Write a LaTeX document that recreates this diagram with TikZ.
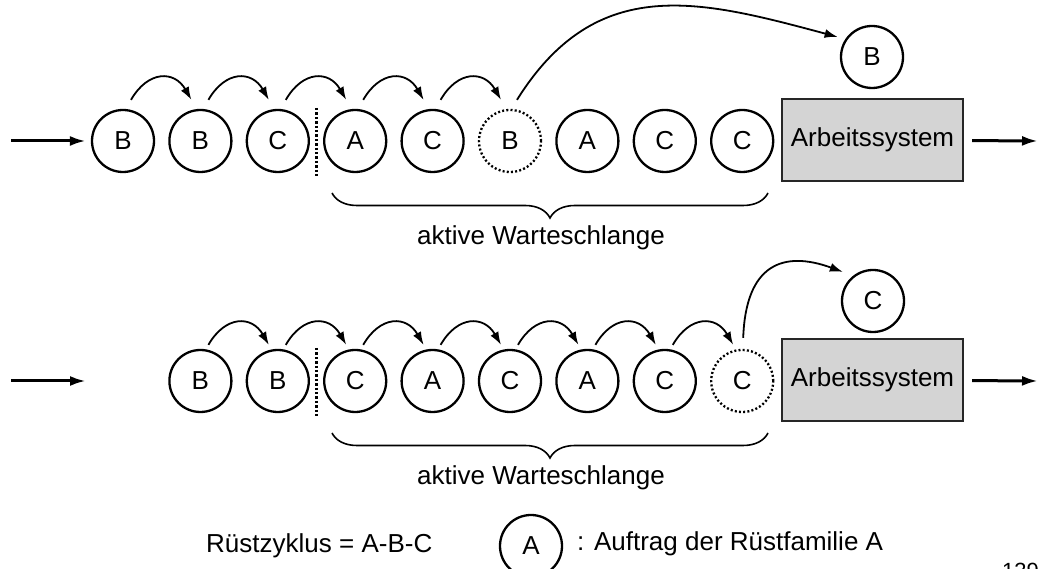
\documentclass[tikz,border=0pt]{standalone}
\usepackage{fontspec}
\setmainfont{Liberation Sans}
\usetikzlibrary{arrows.meta,decorations.pathreplacing}

\begin{document}
\begin{tikzpicture}[x=1pt,y=1pt,
  every node/.style={font=\fontsize{26}{31}\selectfont},
  job/.style={circle,draw,line width=2.3pt,minimum size=62pt,inner sep=0pt},
  gone/.style={job,dash pattern=on 2pt off 2.2pt},
  machine/.style={draw=black!85,fill=black!17,line width=2.4pt,minimum width=181pt,minimum height=82pt,inner sep=0pt},
  flow/.style={line width=3pt,-{Latex[length=16pt,width=10pt]}},
  hop/.style={line width=1.8pt,-{Latex[length=13pt,width=9pt]},out=60,in=120,looseness=1.45},
  jump/.style={line width=1.8pt,-{Latex[length=13pt,width=9pt]}},
  cut/.style={line width=2.6pt,dash pattern=on 2.4pt off 2pt},
  queue/.style={line width=1.6pt,decorate,decoration={brace,mirror,amplitude=25pt}},
  plain/.style={anchor=base west,inner sep=0pt},
]
\useasboundingbox (0,0) rectangle (1038,569);
\clip (0,0) rectangle (1038,569);

% ---------- upper queue ----------
\node[job]  (a1) at (123,428)   {B};
\node[job]  (a2) at (200.4,428) {B};
\node[job]  (a3) at (277.8,428) {C};
\node[job]  (a4) at (355.2,428) {A};
\node[job]  (a5) at (432.6,428) {C};
\node[gone] (a6) at (510,428)   {B};
\node[job]  (a7) at (587.4,428) {A};
\node[job]  (a8) at (664.8,428) {C};
\node[job]  (a9) at (742.2,428) {C};
\node[machine] (m1) at (872.5,429) {Arbeitssystem};
\node[job]  (outB) at (872,512) {B};

\coordinate (in1) at (11,428);
\coordinate (out1) at (1038,428);
\draw[flow,shorten >=5pt] (in1) -- (a1);
\draw[flow,shorten <=8pt] (m1) -- (out1);

\foreach \s/\t in {a1/a2,a2/a3,a3/a4,a4/a5,a5/a6}
  \draw[hop] ([shift={(8,9)}]\s.north) to ([shift={(-9,9)}]\t.north);

\draw[jump,shorten >=8pt] ([shift={(7,9)}]a6.north)
  to[out=58,in=165,looseness=1.15] (outB.146);

\draw[cut] (316.5,461) -- (316.5,391);
\draw[queue] (332,376) -- (768,376);
\node[anchor=base] (lab1) at (541,324) {aktive Warteschlange};

% ---------- lower queue ----------
\node[job]  (b1) at (200.4,188) {B};
\node[job]  (b2) at (277.8,188) {B};
\node[job]  (b3) at (355.2,188) {C};
\node[job]  (b4) at (432.6,188) {A};
\node[job]  (b5) at (510,188)   {C};
\node[job]  (b6) at (587.4,188) {A};
\node[job]  (b7) at (664.8,188) {C};
\node[gone] (b8) at (742.2,188) {C};
\node[machine] (m2) at (872.5,189) {Arbeitssystem};
\node[job]  (outC) at (873,268) {C};

\coordinate (in2) at (11,188);
\coordinate (stop2) at (86,188);
\coordinate (out2) at (1038,188);
\draw[flow] (in2) -- (stop2);
\draw[flow,shorten <=8pt] (m2) -- (out2);

\foreach \s/\t in {b1/b2,b2/b3,b3/b4,b4/b5,b5/b6,b6/b7,b7/b8}
  \draw[hop] ([shift={(8,4)}]\s.north) to ([shift={(-9,4)}]\t.north);

\draw[jump,shorten >=11pt] ([shift={(1,11)}]b8.north)
  to[out=88,in=160,looseness=1.5] (outC.128);

\draw[cut] (316.5,221) -- (316.5,151);
\draw[queue] (332,136) -- (768,136);
\node[anchor=base] (lab2) at (541,84) {aktive Warteschlange};

% ---------- legend ----------
\node[plain] (cycle) at (206,16) {Rüstzyklus = A-B-C};
\node[job] (key) at (531,23) {A};
\node[plain] (keytext) at (577,18) {: Auftrag der Rüstfamilie A};
\node[plain,font=\fontsize{22}{26}\selectfont] (fig) at (1002,-10) {1397};
\end{tikzpicture}
\end{document}
